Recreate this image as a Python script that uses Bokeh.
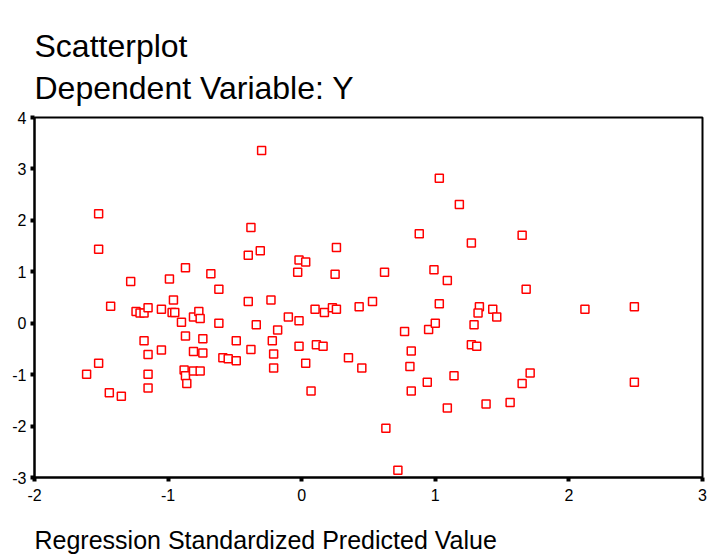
from bokeh.plotting import figure
from bokeh.models import Title, Range1d, FixedTicker
from bokeh.embed import file_html
from bokeh.resources import INLINE

# Regression standardized predicted value (x) and dependent variable Y values (y)
pred_x = [
    -1.52, -1.52, -1.28, -0.99, -0.87, -0.68, -0.62, -0.96,
    -1.43, -1.24, -1.21, -1.18, -1.15, -1.05, -0.97, -0.95, -0.90, -0.81,
    -0.77, -0.76, -0.62, -0.87, -0.74, -0.49, -1.18, -1.15, -1.05, -0.81,
    -0.74, -0.59, -0.55, -0.49, -1.52, -1.61, -1.15, -0.88, -0.87, -0.81,
    -0.76, -0.86, -1.15, -1.44, -1.35,
    -0.30, 1.03, 1.18, -0.38, 0.88, 1.27, -0.40, -0.31, -0.02, 0.03,
    -0.03, 0.26, 0.25, 0.62, 0.99, 1.09,
    -0.40, -0.23, 0.53, 0.43, 0.10, 0.17, 0.23, 0.26, 1.03, -0.10, -0.02,
    -0.34, -0.18, -0.22, -0.38, -0.21, -0.02, 0.11, 0.16, -0.21, 0.03,
    0.35, 0.45, 0.07, 0.77, 0.95, 1.00, 0.82, 0.81, 0.94, 1.14, 0.82,
    1.09, 0.63, 0.72,
    1.65, 1.68, 1.33, 1.32, 1.43, 1.46, 1.29, 2.12, 2.49, 1.27, 1.31,
    1.71, 1.65, 2.49, 1.38, 1.56,
]
dep_y = [
    2.13, 1.44, 0.81, 0.86, 1.08, 0.96, 0.66, 0.45,
    0.33, 0.23, 0.20, 0.20, 0.30, 0.27, 0.21, 0.21, 0.02, 0.12,
    0.23, 0.09, 0.00, -0.25, -0.30, -0.34, -0.34, -0.61, -0.52, -0.55,
    -0.58, -0.67, -0.69, -0.73, -0.78, -0.99, -0.99, -0.91, -1.02, -0.93,
    -0.93, -1.17, -1.26, -1.35, -1.42,
    3.36, 2.82, 2.31, 1.86, 1.74, 1.56, 1.32, 1.41, 1.23, 1.19,
    0.99, 1.47, 0.95, 0.99, 1.04, 0.83,
    0.42, 0.45, 0.42, 0.32, 0.27, 0.21, 0.30, 0.27, 0.38, 0.12, 0.05,
    -0.03, -0.13, -0.34, -0.51, -0.60, -0.45, -0.42, -0.45, -0.87, -0.78,
    -0.67, -0.87, -1.32, -0.16, -0.12, 0.00, -0.54, -0.84, -1.15, -1.02, -1.32,
    -1.65, -2.04, -2.86,
    1.71, 0.66, 0.32, 0.20, 0.27, 0.12, -0.03, 0.27, 0.32, -0.42, -0.45,
    -0.97, -1.17, -1.15, -1.57, -1.54,
]

x_ticks = [-2, -1, 0, 1, 2, 3]
y_ticks = [-3, -2, -1, 0, 1, 2, 3, 4]

FONT = "Liberation Sans"

p = figure(width=707, height=559, output_backend="svg", toolbar_location=None,
           x_range=Range1d(-2, 3), y_range=Range1d(-3, 4),
           min_border_left=34, min_border_right=5, min_border_top=117,
           min_border_bottom=82)

p.scatter(pred_x, dep_y, marker="square", size=8, line_color="#ff0000",
          fill_color="white", line_width=1.5)

p.xgrid.visible = False
p.ygrid.visible = False
p.outline_line_color = "black"
p.outline_line_width = 2
p.outline_line_alpha = 1

for ax, ticks in ((p.xaxis[0], x_ticks), (p.yaxis[0], y_ticks)):
    ax.ticker = FixedTicker(ticks=ticks)
    ax.major_label_overrides = {t: str(t) for t in ticks}
    ax.minor_tick_line_color = None
    ax.major_tick_in = 0
    ax.major_tick_out = 4
    ax.major_tick_line_width = 4
    ax.major_tick_line_color = "black"
    ax.axis_line_color = "black"
    ax.axis_line_width = 2
    ax.major_label_text_font = FONT
    ax.major_label_text_font_size = "16px"
    ax.major_label_text_color = "black"
p.xaxis[0].major_label_standoff = 7
p.yaxis[0].major_label_standoff = 4

# invisible axis label, used only as a spacer between the ticks and the x title
p.xaxis[0].axis_label = "."
p.xaxis[0].axis_label_text_alpha = 0
p.xaxis[0].axis_label_text_font_size = "24px"
p.xaxis[0].axis_label_standoff = 0

p.add_layout(Title(text="Dependent Variable: Y", align="left", text_font=FONT,
                   text_font_size="32px", text_font_style="normal",
                   text_color="black", standoff=24), "above")
p.add_layout(Title(text="Scatterplot", align="left", text_font=FONT,
                   text_font_size="32px", text_font_style="normal",
                   text_color="black", standoff=-16), "above")

p.add_layout(Title(text="Regression Standardized Predicted Value", align="left",
                   text_font=FONT, text_font_size="25px", text_font_style="normal",
                   text_color="black", standoff=0), "below")

open("out.html", "w").write(file_html(p, INLINE))
